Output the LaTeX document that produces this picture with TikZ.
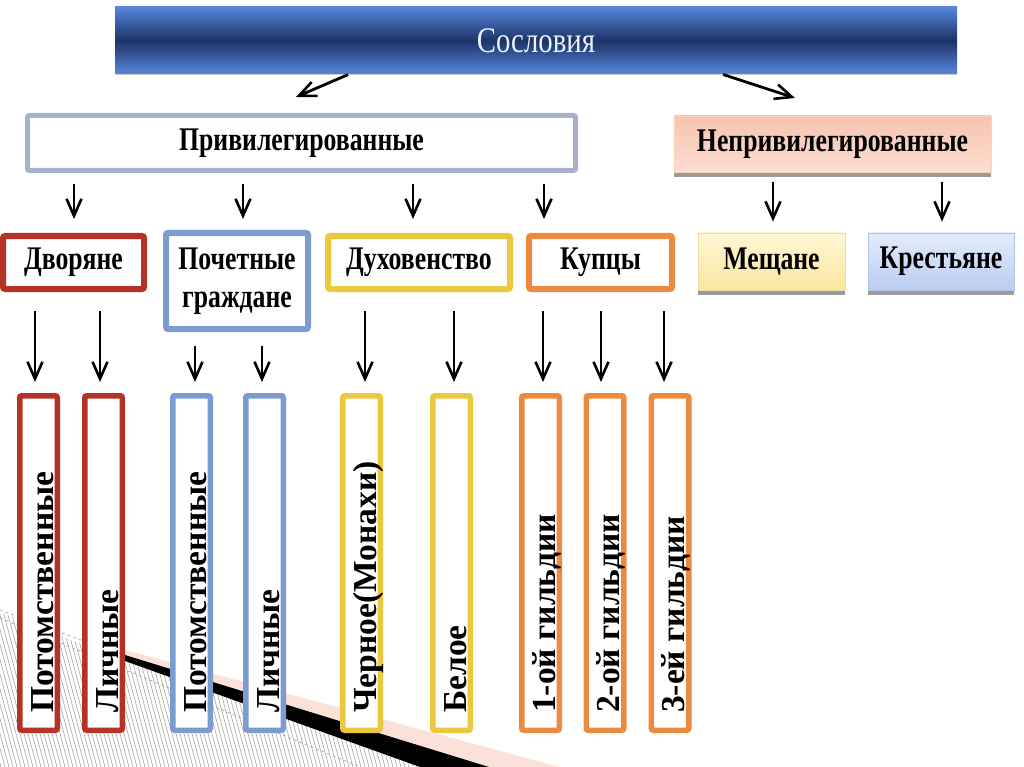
\documentclass[tikz,border=0pt]{standalone}
\usepackage{fontspec}
\setmainfont{Liberation Serif}
\usetikzlibrary{arrows.meta,calc}
\newcommand\sqz[1]{\scalebox{0.78}[1]{#1}}
\definecolor{redc}{RGB}{180,50,38}
\definecolor{bluec}{RGB}{124,156,208}
\definecolor{yelc}{RGB}{235,200,62}
\definecolor{orac}{RGB}{238,138,64}
\definecolor{privc}{RGB}{168,176,204}
\definecolor{barlight}{RGB}{88,134,220}
\definecolor{bardark}{RGB}{28,52,102}
\definecolor{bartext}{RGB}{234,240,255}
\definecolor{shadowc}{RGB}{155,155,155}
\definecolor{hatchc}{RGB}{165,165,165}
\definecolor{pinkc}{RGB}{251,225,216}
\begin{document}
\begin{tikzpicture}[x=1pt,y=-1pt,
  arr/.style={line width=2.8pt,-{Straight Barb[length=17pt,width=15pt,line width=2.6pt]}},
  hbox/.style={draw,line width=6pt,fill=white,rounded corners=2pt,inner sep=0pt,
    font=\bfseries\fontsize{33}{38}\selectfont,align=center},
  fbox/.style={draw,line width=0.8pt,inner sep=0pt,
    font=\bfseries\fontsize{33}{38}\selectfont,align=center},
  vbox/.style={draw,line width=5.5pt,fill=white,rounded corners=2pt,inner sep=0pt,
    minimum width=37.5pt,minimum height=334.5pt},
  vtxt/.style={rotate=90,anchor=base west,inner sep=0pt,
    font=\bfseries\fontsize{33.5}{34}\selectfont},
]
\useasboundingbox (0,0) rectangle (1024,767);
\fill[white] (0,0) rectangle (1024,767);

% background decoration (bottom left)
\begin{scope}
  \clip (0,612) -- (127,662) -- (420,767) -- (0,767) -- cycle;
  \foreach \i in {-60,-56,...,440} \draw[hatchc,line width=0.6pt] (\i,600) -- ({\i+45},767);
\end{scope}
\draw[gray!70,dashed,line width=0.7pt] (0,610) -- (127,657);
\draw[gray!70,dashed,line width=0.7pt] (0,618) -- (360,767);
\fill[pinkc] (125,650) -- (560,767) -- (489,767) -- (125,655) -- cycle;
\fill[black] (125,655) -- (489,767) -- (420,767) -- (125,661) -- cycle;

% title bar
\node[inner sep=0pt,minimum width=842pt,minimum height=67pt,
  top color=barlight,bottom color=barlight,middle color=bardark,
  text=bartext,font=\fontsize{36}{36}\selectfont] (bar) at (536,40.5) {\scalebox{0.8}[1]{Сословия}};
\draw[gray!40,line width=1pt] (bar.south west) -- (bar.south east);

% second level
\node[draw=privc,line width=5pt,fill=white,rounded corners=2pt,inner sep=0pt,
  minimum width=548pt,minimum height=55pt,
  font=\bfseries\fontsize{33}{38}\selectfont] (priv) at (301.5,143) {\sqz{Привилегированные}};
\fill[shadowc] (674,172) rectangle (991,177);
\node[fbox,draw=red!20!orange!30,top color={rgb,255:red,246;green,195;blue,175},
  bottom color={rgb,255:red,252;green,222;blue,208},
  minimum width=317pt,minimum height=56pt] (npriv) at (832.5,144) {\sqz{Непривилегированные}};

% third level
\node[hbox,draw=redc,minimum width=141pt,minimum height=53pt] (dv) at (73.5,262.5) {\sqz{Дворяне}};
\node[hbox,draw=bluec,minimum width=142pt,minimum height=96pt] (pg) at (237,281) {\sqz{Почетные}\\\sqz{граждане}};
\node[hbox,draw=yelc,minimum width=182pt,minimum height=53pt] (du) at (419,262.5) {\sqz{Духовенство}};
\node[hbox,draw=orac,minimum width=143pt,minimum height=53pt] (ku) at (600.5,262.5) {\sqz{Купцы}};
\fill[shadowc] (698,290) rectangle (845,295);
\node[fbox,draw={rgb,255:red,235;green,220;blue,160},top color={rgb,255:red,255;green,246;blue,212},
  bottom color={rgb,255:red,250;green,230;blue,160},minimum width=147pt,minimum height=57pt] (me) at (771.5,261.5) {\sqz{Мещане}};
\fill[shadowc] (868,290) rectangle (1014,295);
\node[fbox,draw={rgb,255:red,175;green,195;blue,228},top color={rgb,255:red,228;green,236;blue,252},
  bottom color={rgb,255:red,185;green,205;blue,242},minimum width=146pt,minimum height=57pt] (kr) at (941,261.5) {\sqz{Крестьяне}};

% fourth level boxes
\node[vbox,draw=redc]  (v1) at (38.5,563) {};
\node[vbox,draw=redc]  (v2) at (103.5,563) {};
\node[vbox,draw=bluec] (v3) at (191.5,563) {};
\node[vbox,draw=bluec] (v4) at (264.5,563) {};
\node[vbox,draw=yelc]  (v5) at (361.5,563) {};
\node[vbox,draw=yelc]  (v6) at (451.5,563) {};
\node[vbox,draw=orac]  (v7) at (540.5,563) {};
\node[vbox,draw=orac]  (v8) at (605,563) {};
\node[vbox,draw=orac]  (v9) at (670,563) {};
\node[vtxt] (t1) at (53,713) {Потомственные};
\node[vtxt] (t2) at (118,713) {Личные};
\node[vtxt] (t3) at (206,713) {Потомственные};
\node[vtxt] (t4) at (279,713) {Личные};
\node[vtxt] (t5) at (376,713) {Черное(Монахи)};
\node[vtxt] (t6) at (466,713) {Белое};
\node[vtxt] (t7) at (555,713) {1-ой гильдии};
\node[vtxt] (t8) at (619.5,713) {2-ой гильдии};
\node[vtxt] (t9) at (684.5,713) {3-ей гильдии};

% top arrows
\coordinate (ls) at ($(bar.south west)!0.278!(bar.south east)$);
\coordinate (rs) at ($(bar.south west)!0.721!(bar.south east)$);
\coordinate (le) at (296,97);
\coordinate (re) at (795,98);
\draw[arr,shorten <=1pt] (ls) -- (le);
\draw[arr,shorten <=1pt] (rs) -- (re);

% x references
\coordinate (xa) at (74,0);
\coordinate (xb) at (243,0);
\coordinate (xc) at (413,0);
\coordinate (xd) at (544,0);
\coordinate (xe) at (773,0);
\coordinate (xf) at (942,0);
\draw[arr,shorten <=11.5pt,shorten >=14pt] (priv.south -| xa) -- (dv.north -| xa);
\draw[arr,shorten <=11.5pt,shorten >=11pt] (priv.south -| xb) -- (pg.north -| xb);
\draw[arr,shorten <=11.5pt,shorten >=14pt] (priv.south -| xc) -- (du.north -| xc);
\draw[arr,shorten <=11.5pt,shorten >=14pt] (priv.south -| xd) -- (ku.north -| xd);
\draw[arr,shorten <=10pt,shorten >=11pt] (npriv.south -| xe) -- (me.north -| xe);
\draw[arr,shorten <=10pt,shorten >=11pt] (npriv.south -| xf) -- (kr.north -| xf);

% arrows to fourth level
\coordinate (x1) at (35,0);
\coordinate (x2) at (100,0);
\coordinate (x3) at (195,0);
\coordinate (x4) at (262,0);
\coordinate (x5) at (365,0);
\coordinate (x6) at (454,0);
\coordinate (x7) at (543,0);
\coordinate (x8) at (601,0);
\coordinate (x9) at (664,0);
\draw[arr,shorten <=19pt,shorten >=11pt] (dv.south -| x1) -- (v1.north -| x1);
\draw[arr,shorten <=19pt,shorten >=11pt] (dv.south -| x2) -- (v2.north -| x2);
\draw[arr,shorten <=14pt,shorten >=11pt] (pg.south -| x3) -- (v3.north -| x3);
\draw[arr,shorten <=14pt,shorten >=11pt] (pg.south -| x4) -- (v4.north -| x4);
\draw[arr,shorten <=19pt,shorten >=11pt] (du.south -| x5) -- (v5.north -| x5);
\draw[arr,shorten <=19pt,shorten >=11pt] (du.south -| x6) -- (v6.north -| x6);
\draw[arr,shorten <=19pt,shorten >=11pt] (ku.south -| x7) -- (v7.north -| x7);
\draw[arr,shorten <=19pt,shorten >=11pt] (ku.south -| x8) -- (v8.north -| x8);
\draw[arr,shorten <=19pt,shorten >=11pt] (ku.south -| x9) -- (v9.north -| x9);
\end{tikzpicture}
\end{document}
